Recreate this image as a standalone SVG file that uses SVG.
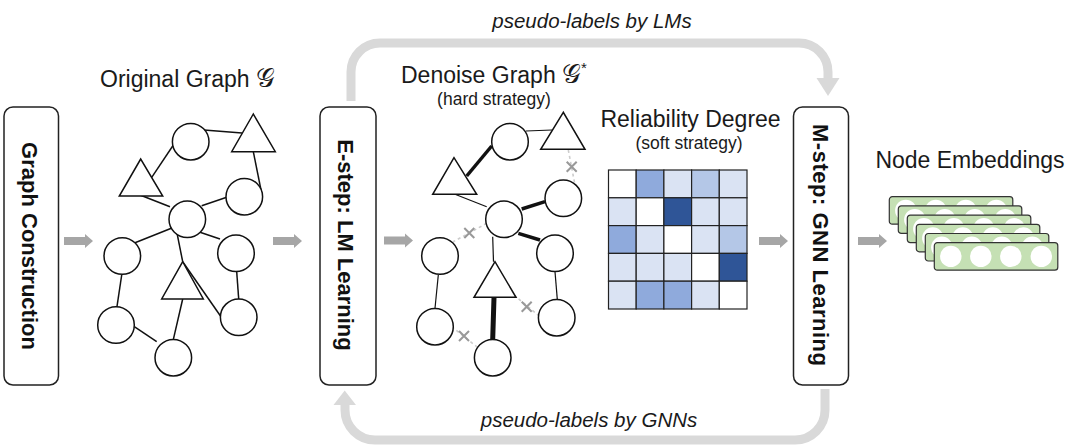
<svg xmlns="http://www.w3.org/2000/svg" width="1080" height="445" viewBox="0 0 1080 445">
<style>
.t{font-family:"Liberation Sans",Arial,Helvetica,sans-serif;fill:#1a1a1a}
.title{font-size:23px}
.sub{font-size:17.5px}
.blabel{font-size:22px;font-weight:bold;fill:#111}
.lbl{font-size:20.5px;font-style:italic}
.math{font-family:"DejaVu Serif","Noto Serif","Liberation Serif",serif;font-size:26px}
.box{fill:#fff;stroke:#222;stroke-width:1.5}
.n{fill:#fff;stroke:#111;stroke-width:1.5}
.e{stroke:#111;stroke-width:1.5;fill:none}
.e1{stroke:#111;stroke-width:1.2;fill:none}
.e2{stroke:#111;stroke-width:3.5;fill:none}
.e3{stroke:#111;stroke-width:5;fill:none}
.d{stroke:#cccccc;stroke-width:1.6;stroke-dasharray:3 3;fill:none}
.x{stroke:#999;stroke-width:2;fill:none}
.loop{fill:none;stroke:#d9d9d9;stroke-width:9}
.head{fill:#d9d9d9}
.sa{fill:#a6a6a6}
.cell{stroke:#222;stroke-width:1.2}
.w{fill:#ffffff}.l{fill:#dae3f3}.lm{fill:#b4c7e7}.m{fill:#8faadc}.dk{fill:#2f5597}
.card{fill:#c5e0b4;stroke:#333;stroke-width:1.2}
.dot{fill:#fff}
</style>
<defs>
<path id="arr" d="M0,-4 H21 V-7 L29,0 L21,7 V4 H0 Z"/>
<path id="xm" d="M-5,-5 L5,5 M5,-5 L-5,5"/>
<g id="emb">
<rect class="card" x="0" y="0" width="123.5" height="27.5" rx="3"/>
<circle class="dot" cx="16.5" cy="13.7" r="10.7"/>
<circle class="dot" cx="46.5" cy="13.7" r="10.7"/>
<circle class="dot" cx="76.5" cy="13.7" r="10.7"/>
<circle class="dot" cx="107" cy="13.7" r="10.7"/>
</g>
</defs>

<!-- connectors -->
<g id="connectors">
<!-- feedback loops -->
<path class="loop" d="M351,101 V72 A29,29 0 0 1 380,43 H799 A29,29 0 0 1 828,72 V79"/>
<polygon class="head" points="816.5,78 839.5,78 828,96"/>
<path class="loop" d="M825,389 V410 A30,30 0 0 1 795,440 H375 A30,30 0 0 1 345,410 V404"/>
<polygon class="head" points="333.5,405 356,405 344.7,390.5"/>
<!-- small flow arrows -->
<use href="#arr" class="sa" x="64" y="241"/>
<use href="#arr" class="sa" x="273" y="241"/>
<use href="#arr" class="sa" x="384" y="240.5"/>
<use href="#arr" class="sa" x="759" y="241"/>
<use href="#arr" class="sa" x="858" y="241"/>
<!-- original graph edges -->
<g id="g1-edges">
<line class="e" x1="204" y1="130" x2="242" y2="133"/>
<line class="e" x1="172.7" y1="146" x2="151.7" y2="177.3"/>
<line class="e" x1="253.3" y1="151.7" x2="261.7" y2="193.3"/>
<line class="e" x1="140" y1="195" x2="170" y2="206.7"/>
<line class="e" x1="226.7" y1="197.3" x2="201.7" y2="205.7"/>
<line class="e" x1="172" y1="228" x2="135" y2="242.7"/>
<line class="e" x1="200" y1="232.3" x2="220" y2="239"/>
<line class="e" x1="176.7" y1="231.7" x2="182.7" y2="261.7"/>
<line class="e" x1="182.7" y1="261.7" x2="221" y2="316.7"/>
<line class="e" x1="236.7" y1="271.7" x2="238.7" y2="299"/>
<line class="e" x1="121.7" y1="275" x2="116.7" y2="308.3"/>
<line class="e" x1="134.3" y1="326.7" x2="156.7" y2="341.7"/>
<line class="e" x1="182.7" y1="299" x2="173.3" y2="339.7"/>
</g>
<!-- denoised graph edges -->
<g id="g2-edges">
<line class="e1" x1="526" y1="131" x2="552" y2="130"/>
<line class="e2" x1="491.7" y1="146" x2="466.7" y2="176"/>
<line class="e1" x1="455" y1="194.3" x2="486.7" y2="206.7"/>
<line class="e2" x1="545" y1="201.7" x2="521.7" y2="209"/>
<line class="e2" x1="518.3" y1="233.3" x2="540" y2="240"/>
<line class="e1" x1="492.7" y1="236.7" x2="493.5" y2="261.7"/>
<line class="e1" x1="555" y1="271.7" x2="557.3" y2="299.4"/>
<line class="e1" x1="438.3" y1="275" x2="435" y2="308.3"/>
<line class="e3" x1="494" y1="297.3" x2="492.7" y2="340"/>
<line class="d" x1="568.3" y1="150" x2="575" y2="185"/>
<line class="d" x1="486.7" y1="223.3" x2="453.3" y2="241.7"/>
<line class="d" x1="514" y1="295" x2="540" y2="316.7"/>
<line class="d" x1="451.7" y1="326.7" x2="476.7" y2="346.7"/>
<use href="#xm" class="x" x="571.7" y="166.7"/>
<use href="#xm" class="x" x="469.3" y="233"/>
<use href="#xm" class="x" x="526.7" y="306.7"/>
<use href="#xm" class="x" x="464" y="336"/>
</g>
</g>

<!-- titles / labels -->
<text class="t lbl" x="592" y="28" text-anchor="middle">pseudo-labels by LMs</text>
<text class="t lbl" x="589" y="427" text-anchor="middle">pseudo-labels by GNNs</text>
<text class="t title" x="100" y="87">Original Graph <tspan class="math">𝒢</tspan></text>
<text class="t title" x="401" y="83">Denoise Graph <tspan class="math">𝒢</tspan><tspan font-size="15" dy="-10">*</tspan></text>
<text class="t sub" x="494" y="105" text-anchor="middle">(hard strategy)</text>
<text class="t title" x="690.5" y="127" text-anchor="middle">Reliability Degree</text>
<text class="t sub" x="689" y="149" text-anchor="middle">(soft strategy)</text>
<text class="t title" x="970" y="168" text-anchor="middle">Node Embeddings</text>

<!-- process boxes -->
<g id="graph-construction">
<rect class="box" x="4" y="107" width="54.5" height="278" rx="9"/>
<text class="t blabel" transform="translate(22,246) rotate(90)" text-anchor="middle">Graph Construction</text>
</g>
<g id="e-step">
<rect class="box" x="320" y="107" width="56" height="278" rx="9"/>
<text class="t blabel" transform="translate(338,245) rotate(90)" text-anchor="middle">E-step: LM Learning</text>
</g>
<g id="m-step">
<rect class="box" x="793.5" y="107" width="55" height="278" rx="9"/>
<text class="t blabel" transform="translate(812.5,245) rotate(90)" text-anchor="middle" textLength="242">M-step: GNN Learning</text>
</g>

<!-- original graph nodes -->
<g id="g1-c1"><circle class="n" cx="190.7" cy="141.7" r="18.3"/></g>
<g id="g1-t1"><polygon class="n" points="253.3,114 231.7,151.7 275.3,151.7"/></g>
<g id="g1-t2"><polygon class="n" points="140.7,159 119.3,196 162.7,196"/></g>
<g id="g1-c2"><circle class="n" cx="244.3" cy="196.7" r="18.3"/></g>
<g id="g1-c3"><circle class="n" cx="187.3" cy="219.3" r="18.3"/></g>
<g id="g1-c4"><circle class="n" cx="122.3" cy="256" r="18.3"/></g>
<g id="g1-c5"><circle class="n" cx="236" cy="253.3" r="18.3"/></g>
<g id="g1-t3"><polygon class="n" points="182.7,261.7 161.7,299 203.3,299"/></g>
<g id="g1-c6"><circle class="n" cx="238.7" cy="317.3" r="18.3"/></g>
<g id="g1-c7"><circle class="n" cx="116" cy="325" r="18.3"/></g>
<g id="g1-c8"><circle class="n" cx="173.3" cy="357.7" r="18.3"/></g>

<!-- denoised graph nodes -->
<g id="g2-c1"><circle class="n" cx="510" cy="141.7" r="18.3"/></g>
<g id="g2-t1"><polygon class="n" points="563.3,112.3 540.7,149.3 585,149.3"/></g>
<g id="g2-t2"><polygon class="n" points="454,157.7 432.7,194.3 476.7,194.3"/></g>
<g id="g2-c2"><circle class="n" cx="563.3" cy="198.3" r="18.3"/></g>
<g id="g2-c3"><circle class="n" cx="504" cy="219.3" r="18.3"/></g>
<g id="g2-c4"><circle class="n" cx="440" cy="256" r="18.3"/></g>
<g id="g2-c5"><circle class="n" cx="555" cy="253.3" r="18.3"/></g>
<g id="g2-t3"><polygon class="n" points="495,261.7 474,297.3 516,297.3"/></g>
<g id="g2-c6"><circle class="n" cx="556.7" cy="317.7" r="18.3"/></g>
<g id="g2-c7"><circle class="n" cx="435" cy="326.7" r="18.3"/></g>
<g id="g2-c8"><circle class="n" cx="492.7" cy="357.7" r="18.3"/></g>

<!-- reliability matrix -->
<g id="matrix">
<rect class="cell w" x="608.5" y="170" width="27.7" height="27.8"/>
<rect class="cell m" x="636.2" y="170" width="27.7" height="27.8"/>
<rect class="cell l" x="663.9" y="170" width="27.7" height="27.8"/>
<rect class="cell lm" x="691.6" y="170" width="27.7" height="27.8"/>
<rect class="cell l" x="719.3" y="170" width="27.7" height="27.8"/>
<rect class="cell l" x="608.5" y="197.8" width="27.7" height="27.8"/>
<rect class="cell w" x="636.2" y="197.8" width="27.7" height="27.8"/>
<rect class="cell dk" x="663.9" y="197.8" width="27.7" height="27.8"/>
<rect class="cell l" x="691.6" y="197.8" width="27.7" height="27.8"/>
<rect class="cell l" x="719.3" y="197.8" width="27.7" height="27.8"/>
<rect class="cell m" x="608.5" y="225.6" width="27.7" height="27.8"/>
<rect class="cell l" x="636.2" y="225.6" width="27.7" height="27.8"/>
<rect class="cell w" x="663.9" y="225.6" width="27.7" height="27.8"/>
<rect class="cell l" x="691.6" y="225.6" width="27.7" height="27.8"/>
<rect class="cell lm" x="719.3" y="225.6" width="27.7" height="27.8"/>
<rect class="cell l" x="608.5" y="253.4" width="27.7" height="27.8"/>
<rect class="cell l" x="636.2" y="253.4" width="27.7" height="27.8"/>
<rect class="cell l" x="663.9" y="253.4" width="27.7" height="27.8"/>
<rect class="cell w" x="691.6" y="253.4" width="27.7" height="27.8"/>
<rect class="cell dk" x="719.3" y="253.4" width="27.7" height="27.8"/>
<rect class="cell l" x="608.5" y="281.2" width="27.7" height="27.8"/>
<rect class="cell m" x="636.2" y="281.2" width="27.7" height="27.8"/>
<rect class="cell m" x="663.9" y="281.2" width="27.7" height="27.8"/>
<rect class="cell l" x="691.6" y="281.2" width="27.7" height="27.8"/>
<rect class="cell w" x="719.3" y="281.2" width="27.7" height="27.8"/>
</g>

<!-- node embeddings stack -->
<g id="node-embeddings">
<use href="#emb" x="889.3" y="196.7"/>
<use href="#emb" x="898.3" y="205.9"/>
<use href="#emb" x="907.3" y="215.1"/>
<use href="#emb" x="916.3" y="224.3"/>
<use href="#emb" x="925.3" y="233.5"/>
<use href="#emb" x="934.3" y="242.7"/>
</g>
</svg>
